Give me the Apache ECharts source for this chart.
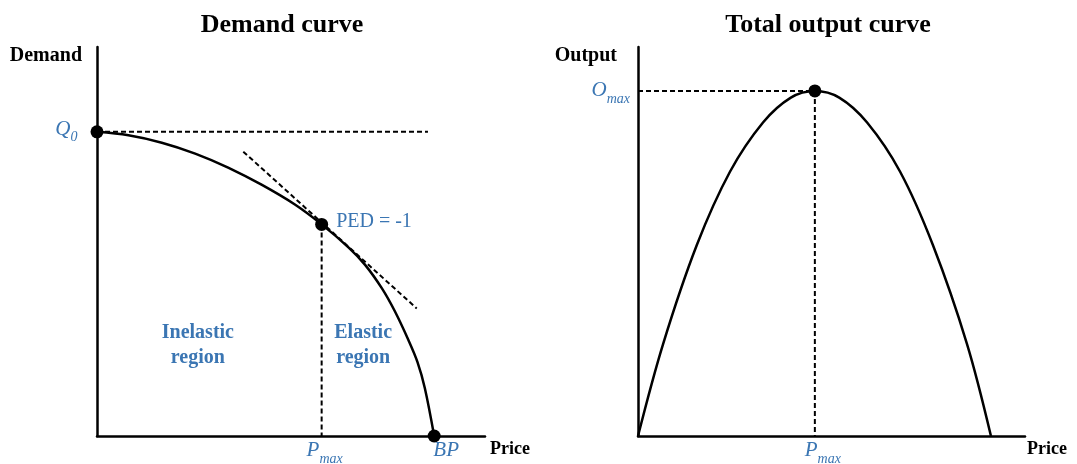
<!DOCTYPE html>
<html>
<head>
<meta charset="utf-8">
<title>Demand curve / Total output curve</title>
<script src="https://cdn.jsdelivr.net/npm/echarts@6/dist/echarts.min.js"></script>
<style>
  html, body { margin: 0; padding: 0; background: #fff; }
  #main { width: 1077px; height: 464px; }
</style>
</head>
<body>
<div id="main"></div>
<script>
// values (both axes run 0..100)
const demandPrice = [0, 8.1, 16.7, 25.3, 33.8, 42.4, 51.0, 57.9, 64.8, 69.1, 73.4, 76.8, 80.2, 82.6, 84.5, 86.9]
const demandQty = [78.2, 77.3, 75.4, 72.6, 69.0, 64.6, 59.5, 54.4, 48.5, 44.0, 38.0, 32.0, 24.8, 19.0, 12.3, 0]

const outputPrice = [0, 6.5, 15.2, 23.8, 32.3, 39.5, 45.7, 52.0, 59.2, 67.7, 76.2, 85.0, 91.2]
const outputQty = [0, 23.7, 49.1, 68.0, 80.6, 87.0, 88.7, 87.0, 80.6, 68.0, 49.1, 23.7, 0]

// guide lines
const q0Line = [[0, 78.2], [85.3, 78.2]]
const tangentLine = [[37.7, 73.1], [82.4, 32.8]]
const pedDrop = [[57.9, 54.4], [57.9, 0]]
const omaxLine = [[0, 88.7], [45.7, 88.7]]
const pmaxDrop = [[45.7, 88.7], [45.7, 0]]

// marked points
const q0 = [0, 78.2]
const ped = [57.9, 54.4]
const bp = [86.9, 0]
const peak = [45.7, 88.7]

const regionLabels = ['Inelastic\nregion', 'Elastic\nregion']
const regionPos = [[26.0, 23.3], [68.6, 23.3]]

const SERIF = 'Liberation Serif'
const BLUE = '#3b76b3'

const zip = (xs, ys) => xs.map((x, i) => [x, ys[i]])

const rich = {
  m: { fontFamily: SERIF, fontStyle: 'italic', fontSize: 21, color: BLUE, verticalAlign: 'bottom', padding: [0, 0, 5, 0] },
  s: { fontFamily: SERIF, fontStyle: 'italic', fontSize: 14, color: BLUE, verticalAlign: 'bottom' }
}

const axisBase = {
  type: 'value',
  min: 0,
  max: 100,
  axisLine: { show: true, onZero: false, lineStyle: { color: '#000', width: 2.5 } },
  axisTick: { show: false },
  axisLabel: { show: false },
  splitLine: { show: false },
  nameTextStyle: { fontFamily: SERIF, fontWeight: 'bold', fontSize: 18, color: '#000' }
}

const xName = (name, gap) => ({
  ...axisBase,
  name: name,
  nameLocation: 'end',
  nameGap: gap,
  nameTextStyle: { ...axisBase.nameTextStyle, align: 'left', verticalAlign: 'top', padding: [4, 0, 0, 0] }
})

const yName = (name, padRight) => ({
  ...axisBase,
  name: name,
  nameLocation: 'end',
  nameGap: -9,
  nameTextStyle: { ...axisBase.nameTextStyle, fontSize: 20, align: 'right', verticalAlign: 'middle', padding: [0, padRight, 0, 0] }
})

const dashed = (data, idx) => ({
  type: 'line',
  xAxisIndex: idx,
  yAxisIndex: idx,
  data: data,
  symbol: 'none',
  silent: true,
  lineStyle: { color: '#000', width: 2, type: [5, 3] }
})

const solid = (data, idx) => ({
  type: 'line',
  xAxisIndex: idx,
  yAxisIndex: idx,
  data: data,
  smooth: 0.35,
  symbol: 'none',
  silent: true,
  lineStyle: { color: '#000', width: 2.5 }
})

const option = {
  animation: false,
  backgroundColor: '#fff',
  title: [
    { text: 'Demand curve', left: 282, top: 12, textAlign: 'center', padding: 0,
      textStyle: { fontFamily: SERIF, fontWeight: 'bold', fontSize: 26, color: '#000' } },
    { text: 'Total output curve', left: 828, top: 12, textAlign: 'center', padding: 0,
      textStyle: { fontFamily: SERIF, fontWeight: 'bold', fontSize: 26, color: '#000' } }
  ],
  grid: [
    { left: 97, top: 47, width: 388, height: 389 },
    { left: 638, top: 47, width: 387, height: 389 }
  ],
  xAxis: [
    { ...xName('Price', 5), gridIndex: 0 },
    { ...xName('Price', 2), gridIndex: 1 }
  ],
  yAxis: [
    { ...yName('Demand', 15), gridIndex: 0 },
    { ...yName('Output', 21), gridIndex: 1 }
  ],
  series: [
    // demand curve
    dashed(q0Line, 0),
    dashed(tangentLine, 0),
    dashed(pedDrop, 0),
    solid(zip(demandPrice, demandQty), 0),
    {
      type: 'scatter',
      xAxisIndex: 0,
      yAxisIndex: 0,
      symbolSize: 13,
      itemStyle: { color: '#000', opacity: 1 },
      data: [
        { value: q0, label: { show: true, position: 'left', distance: 13, formatter: '{m|Q}{s|0}', rich: rich } },
        { value: ped, label: { show: true, position: 'right', distance: 8, offset: [0, -3],
            formatter: 'PED = -1', fontFamily: SERIF, fontSize: 20, color: BLUE } },
        { value: bp, label: { show: true, position: 'bottom', distance: 0, offset: [12, -3],
            formatter: 'BP', fontFamily: SERIF, fontStyle: 'italic', fontSize: 21, color: BLUE } }
      ]
    },
    {
      type: 'scatter',
      xAxisIndex: 0,
      yAxisIndex: 0,
      symbolSize: 0,
      silent: true,
      itemStyle: { opacity: 1 },
      data: [
        { value: [ped[0], 0], label: { show: true, position: 'bottom', distance: 4, offset: [3, 0],
            formatter: '{m|P}{s|max}', rich: rich } },
        ...regionLabels.map((t, i) => ({
          value: regionPos[i],
          label: { show: true, position: 'inside', formatter: t, fontFamily: SERIF, fontWeight: 'bold',
            fontSize: 20, lineHeight: 25, color: BLUE, align: 'center' }
        }))
      ]
    },

    // total output curve
    dashed(omaxLine, 1),
    dashed(pmaxDrop, 1),
    solid(zip(outputPrice, outputQty), 1),
    {
      type: 'scatter',
      xAxisIndex: 1,
      yAxisIndex: 1,
      symbolSize: 13,
      itemStyle: { color: '#000', opacity: 1 },
      data: [peak]
    },
    {
      type: 'scatter',
      xAxisIndex: 1,
      yAxisIndex: 1,
      symbolSize: 0,
      silent: true,
      itemStyle: { opacity: 1 },
      data: [
        { value: [0, peak[1]], label: { show: true, position: 'left', distance: 8, offset: [0, 2],
            formatter: '{m|O}{s|max}', rich: rich } },
        { value: [peak[0], 0], label: { show: true, position: 'bottom', distance: 4, offset: [8, 0],
            formatter: '{m|P}{s|max}', rich: rich } }
      ]
    }
  ]
}

const myChart = echarts.init(document.getElementById('main'))
myChart.setOption(option)
</script>
</body>
</html>
